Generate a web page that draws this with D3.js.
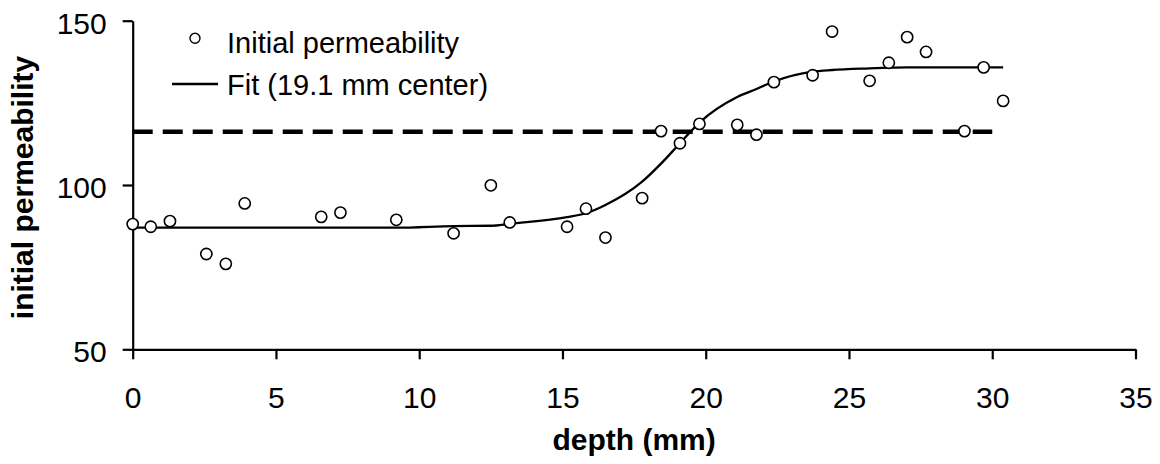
<!DOCTYPE html>
<html>
<head>
<meta charset="utf-8">
<script src="https://cdn.jsdelivr.net/npm/d3@7"></script>
<style>
  body { margin: 0; background: #fff; }
  svg { display: block; font-family: "Liberation Sans", Arial, sans-serif; }
</style>
</head>
<body>
<svg id="chart"></svg>
<script>
// measured depths (mm) and initial permeability
const depth = [0, 0.63, 1.30, 2.57, 3.25, 3.91, 6.58, 7.25, 9.20, 11.20, 12.50, 13.16,
  15.16, 15.82, 16.50, 17.78, 18.44, 19.10, 19.78, 21.10, 21.77, 22.38, 23.73,
  24.41, 25.72, 26.39, 27.03, 27.69, 29.03, 29.70, 30.38]
const permeability = [88.1, 87.3, 89.0, 79.0, 76.0, 94.4, 90.3, 91.6, 89.4, 85.3, 99.9, 88.6,
  87.3, 92.8, 84.0, 96.0, 116.4, 112.7, 118.6, 118.3, 115.3, 131.3, 133.4,
  146.7, 131.7, 137.2, 145.0, 140.5, 116.4, 135.8, 125.6]
// fitted curve read at the same depths
const fit = [87.0, 87.0, 87.0, 87.0, 87.0, 87.0, 87.0, 87.0, 87.0, 87.5, 87.6, 88.2,
  90.2, 91.4, 93.9, 101.0, 106.5, 112.7, 119.0, 126.8, 129.2, 131.5, 134.5,
  135.0, 135.5, 135.7, 135.8, 135.8, 135.8, 135.8, 135.8]
// dashed reference level
const refLevel = 116.2
const refRange = [0, 30]

const xTicks = [0, 5, 10, 15, 20, 25, 30, 35]
const yTicks = [50, 100, 150]
const legendLabels = ["Initial permeability", "Fit (19.1 mm center)"]

const svgWidth = 1160, svgHeight = 464
const svg = d3.select("#chart")
  .attr("width", svgWidth)
  .attr("height", svgHeight)

const x = d3.scaleLinear().domain([0, 35]).range([132.7, 1135.5])
const y = d3.scaleLinear().domain([50, 150]).range([349.3, 20.7])

// x axis
const xAxis = svg.append("g")
  .attr("transform", "translate(0," + y(50) + ")")
  .call(d3.axisBottom(x).tickValues(xTicks).tickSize(10).tickSizeOuter(0))
xAxis.select(".domain").attr("stroke-width", 2.2)
xAxis.selectAll(".tick line").attr("stroke-width", 2.2)
xAxis.selectAll(".tick text")
  .attr("y", 58.7).attr("dy", 0)
  .attr("font-size", 30).attr("fill", "#000")
  .attr("font-family", "Liberation Sans, Arial, sans-serif")

// y axis
const yAxis = svg.append("g")
  .attr("transform", "translate(" + x(0) + ",0)")
  .call(d3.axisLeft(y).tickValues(yTicks).tickSize(10).tickSizeOuter(0).tickPadding(16))
yAxis.select(".domain").attr("stroke-width", 2.2)
yAxis.selectAll(".tick line").attr("stroke-width", 2.2)
yAxis.selectAll(".tick text")
  .attr("dy", "0.42em")
  .attr("font-size", 30).attr("fill", "#000")
  .attr("font-family", "Liberation Sans, Arial, sans-serif")

// axis titles
svg.append("text")
  .attr("x", (x(0) + x(35)) / 2)
  .attr("y", 450)
  .attr("text-anchor", "middle")
  .attr("font-size", 30)
  .attr("font-weight", "bold")
  .text("depth (mm)")

svg.append("text")
  .attr("transform", "translate(33.3,187.5) rotate(-90)")
  .attr("text-anchor", "middle")
  .attr("font-size", 30)
  .attr("font-weight", "bold")
  .text("initial permeability")

// dashed reference line
svg.append("line")
  .attr("x1", x(refRange[0])).attr("x2", x(refRange[1]))
  .attr("y1", y(refLevel)).attr("y2", y(refLevel))
  .attr("stroke", "#000")
  .attr("stroke-width", 4.3)
  .attr("stroke-dasharray", "20,10")

// fit line
const fitData = depth.map(function(d, i) { return { depth: d, value: fit[i] } })
const line = d3.line()
  .x(function(d) { return x(d.depth) })
  .y(function(d) { return y(d.value) })
  .curve(d3.curveMonotoneX)

svg.append("path")
  .datum(fitData)
  .attr("fill", "none")
  .attr("stroke", "#000")
  .attr("stroke-width", 2.3)
  .attr("d", line)

// data points
svg.append("g")
  .selectAll("circle")
  .data(depth)
  .join("circle")
  .attr("cx", function(d) { return x(d) })
  .attr("cy", function(d, i) { return y(permeability[i]) })
  .attr("r", 5.6)
  .attr("fill", "#fff")
  .attr("stroke", "#000")
  .attr("stroke-width", 1.6)

// legend
const legend = svg.append("g")
legend.append("circle")
  .attr("cx", 195).attr("cy", 38.3).attr("r", 5)
  .attr("fill", "#fff").attr("stroke", "#000").attr("stroke-width", 1.4)
legend.append("text")
  .attr("x", 227).attr("y", 53.3)
  .attr("font-size", 29)
  .text(legendLabels[0])
legend.append("line")
  .attr("x1", 172).attr("x2", 218).attr("y1", 84).attr("y2", 84)
  .attr("stroke", "#000").attr("stroke-width", 2.3)
legend.append("text")
  .attr("x", 227).attr("y", 95)
  .attr("font-size", 29)
  .text(legendLabels[1])
</script>
</body>
</html>
